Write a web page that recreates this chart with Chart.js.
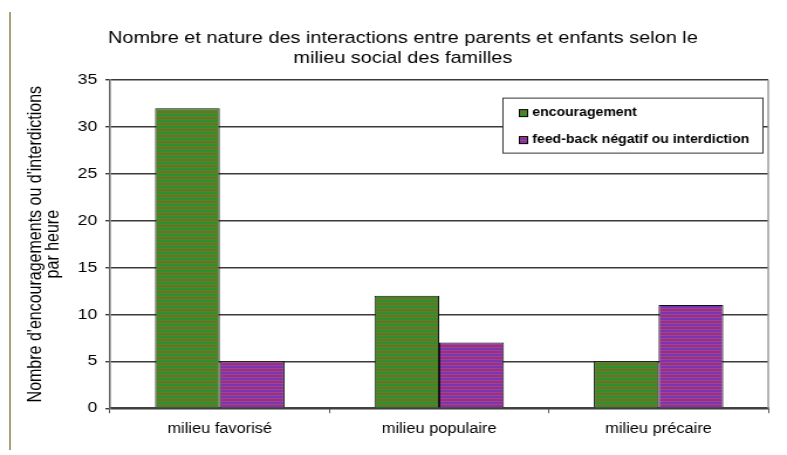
<!DOCTYPE html>
<html>
<head>
<meta charset="utf-8">
<script src="https://cdn.jsdelivr.net/npm/chart.js@4.4.0/dist/chart.umd.min.js"></script>
<style>
  body { margin: 0; background: #fff; }
  #bord { position: absolute; left: 9px; top: 12px; width: 2px; height: 438px; background: #aaa377; }
  /* le graphique d'origine est étiré horizontalement */
  #wrap { position: absolute; left: 0; top: 0; width: 672px; height: 455px;
          transform: scaleX(1.1711); transform-origin: 0 0; }
</style>
</head>
<body>
<div id="bord"></div>
<div id="wrap"><canvas id="chart"></canvas></div>
<script>
// Données
var categories = ['milieu favorisé', 'milieu populaire', 'milieu précaire'];
var encouragement = [32, 12, 5];
var feedbackNegatif = [5, 7, 11];
var yTicks = [0, 5, 10, 15, 20, 25, 30, 35];

var FONT = '"Liberation Sans", Arial, sans-serif';

// Motif rayé (rendu type Excel)
function stripes(main, line) {
    var c = document.createElement('canvas');
    c.width = 4; c.height = 3;
    var g = c.getContext('2d');
    g.fillStyle = main;
    g.fillRect(0, 0, 4, 3);
    g.fillStyle = line;
    g.fillRect(0, 2, 4, 1);
    return g.createPattern(c, 'repeat');
}
var vert = stripes('#2f8f30', '#8c6a1e');
var violet = stripes('#7836b2', '#c03c62');

var extras = {
    id: 'extras',
    afterLayout: function(chart) {
        // recentrer le titre comme sur l'original
        chart.titleBlock.left += 9;
        chart.titleBlock.right += 9;
    },
    beforeDatasetsDraw: function(chart) {
        var ca = chart.chartArea, ctx = chart.ctx;
        ctx.save();
        ctx.strokeStyle = '#9a9a9a';
        ctx.lineWidth = 1.5;
        ctx.beginPath();
        ctx.moveTo(ca.right, ca.top);
        ctx.lineTo(ca.right, ca.bottom);
        ctx.stroke();
        ctx.restore();
    },
    afterDraw: function(chart) {
        // légende dans la zone de tracé
        var ca = chart.chartArea, ctx = chart.ctx;
        var w = 222, h = 55;
        var x = ca.right - 4.5 - w, y = ca.top + 18;
        ctx.save();
        ctx.fillStyle = '#fff';
        ctx.fillRect(x, y, w, h);
        ctx.strokeStyle = '#333';
        ctx.lineWidth = 1;
        ctx.strokeRect(x, y, w, h);
        ctx.font = 'bold 12px ' + FONT;
        ctx.textBaseline = 'middle';
        chart.data.datasets.forEach(function(ds, i) {
            var ly = y + 15 + i * 27;
            ctx.fillStyle = ds.backgroundColor;
            ctx.fillRect(x + 14, ly - 3.5, 7, 7);
            ctx.strokeStyle = '#000';
            ctx.strokeRect(x + 14, ly - 3.5, 7, 7);
            ctx.fillStyle = '#000';
            ctx.fillText(ds.label, x + 25, ly);
        });
        ctx.restore();
    }
};

var ctx = document.getElementById('chart').getContext('2d');
var myChart = new Chart(ctx, {
    type: 'bar',
    data: {
        labels: categories,
        datasets: [{
            label: 'encouragement',
            data: encouragement,
            backgroundColor: vert,
            borderColor: '#111',
            borderWidth: 1
        }, {
            label: 'feed-back négatif ou interdiction',
            data: feedbackNegatif,
            backgroundColor: violet,
            borderColor: '#111',
            borderWidth: 1
        }]
    },
    options: {
        responsive: true,
        maintainAspectRatio: false,
        animation: false,
        categoryPercentage: 0.59,
        barPercentage: 1,
        layout: {
            padding: { left: 14, right: 16, top: 10, bottom: 9 }
        },
        scales: {
            x: {
                grid: { drawOnChartArea: false, tickLength: 5, color: '#555' },
                border: { color: '#444', width: 1.5 },
                ticks: { color: '#000', padding: 8, font: { family: FONT, size: 14 } }
            },
            y: {
                min: 0,
                max: 35,
                afterFit: function(scale) { scale.width = 80; },
                afterBuildTicks: function(scale) {
                    scale.ticks = yTicks.map(function(v) { return { value: v }; });
                },
                grid: { color: '#3a3a3a', lineWidth: 1.4, tickLength: 4 },
                border: { color: '#666', width: 1.5 },
                ticks: { color: '#000', padding: 7, font: { family: FONT, size: 15 } },
                title: {
                    display: true,
                    text: ["Nombre d'encouragements ou d'interdictions", 'par heure'],
                    color: '#000',
                    font: { family: FONT, size: 16, lineHeight: 0.95 },
                    padding: { top: 9, bottom: 0 }
                }
            }
        },
        plugins: {
            legend: { display: false },
            tooltip: { enabled: false },
            title: {
                display: true,
                text: ['Nombre et nature des interactions entre parents et enfants selon le',
                       'milieu social des familles'],
                color: '#000',
                font: { family: FONT, size: 17, weight: 'normal', lineHeight: 1.18 },
                padding: { top: 18, bottom: 12 }
            }
        }
    },
    plugins: [extras]
});
</script>
</body>
</html>
